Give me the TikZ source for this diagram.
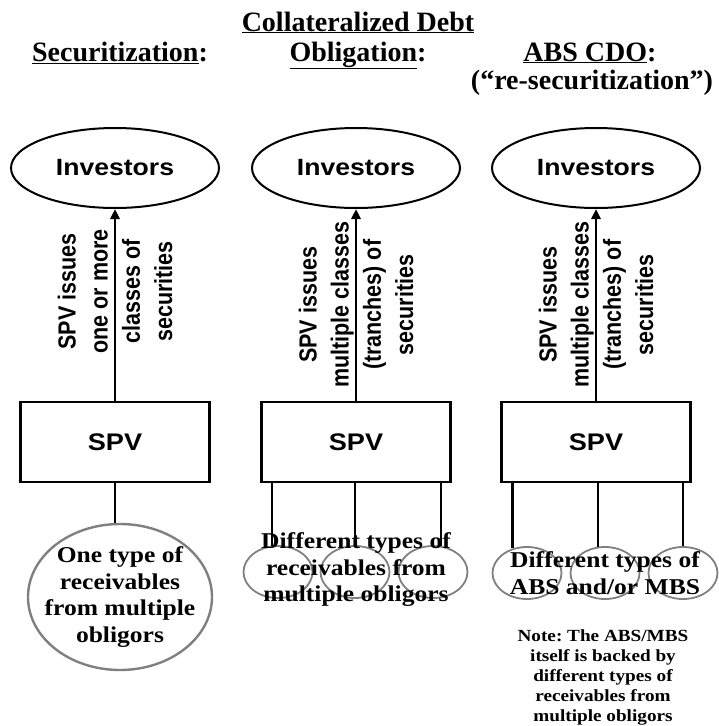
\documentclass[tikz,border=0pt]{standalone}
\usepackage{fontspec}
\setmainfont{Liberation Serif}
\setsansfont{Liberation Sans}
\newfontfamily\widerm[FakeStretch=1.13]{Liberation Serif}
\newfontfamily\widesf[FakeStretch=1.13]{Liberation Sans}
\usetikzlibrary{shapes.geometric,arrows.meta}
\frenchspacing
\tikzset{
  head/.style={anchor=base,inner sep=0pt,font=\fontsize{28}{30}\selectfont\bfseries},
  investors/.style={ellipse,draw,line width=2pt,minimum width=208pt,minimum height=80pt,inner sep=0pt,
    font=\widesf\fontsize{23.5}{26}\selectfont\bfseries},
  spvbox/.style={rectangle,draw,line width=2.6pt,minimum width=189pt,minimum height=80pt,
    font=\widesf\fontsize{24}{26}\selectfont\bfseries},
  issue/.style={xscale=1.15,rotate=90,align=center,inner sep=0pt,font=\sffamily\fontsize{21.5}{28}\selectfont\bfseries},
  flow/.style={line width=2.6pt,-{Triangle[width=9pt,length=10pt]}},
  tie/.style={line width=2.6pt},
  pool/.style={ellipse,draw=gray,line width=2.4pt,minimum width=184pt,minimum height=146pt,inner sep=0pt},
  asset/.style={ellipse,draw=gray,line width=1.8pt,minimum width=69pt,minimum height=52pt,inner sep=0pt},
  assettext/.style={align=center,inner sep=0pt,font=\widerm\fontsize{22.6}{26.5}\selectfont\bfseries},
  note/.style={align=center,inner sep=0pt,font=\widerm\fontsize{17}{20}\selectfont\bfseries}
}
\begin{document}
\begin{tikzpicture}[x=1pt,y=-1pt]
  \useasboundingbox (0,0) rectangle (718,726);

  \node[head] (hcdo) at (358,31) {\underline{Collateralized Debt}};
  \node[head] (hsec) at (120,61) {\underline{Securitization}:};
  \node[head] (hobl) at (358,61) {\underline{Obligation}:};
  \node[head] (habs) at (590,61) {\underline{ABS CDO}:};
  \node[head] (hres) at (592,89) {(“re-securitization”)};

  \node[investors] (inv1) at (115,168) {Investors};
  \node[investors] (inv2) at (356,168) {Investors};
  \node[investors] (inv3) at (596,168) {Investors};

  \node[spvbox] (spv1) at (115,442) {SPV};
  \node[spvbox] (spv2) at (356,442) {SPV};
  \node[spvbox] (spv3) at (596,442) {SPV};

  \draw[flow] (spv1) -- node[issue,pos=.57] {SPV issues\\one or more\\classes of\\securities} (inv1);
  \draw[flow] (spv2) -- node[issue,pos=.5] {SPV issues\\multiple classes\\(tranches) of\\securities} (inv2);
  \draw[flow] (spv3) -- node[issue,pos=.5] {SPV issues\\multiple classes\\(tranches) of\\securities} (inv3);

  \node[pool] (pool1) at (120,597) {};
  \draw[tie] (spv1.south) -- (spv1.south |- pool1.north);
  \node[assettext] (txt1) at (pool1) {One type of\\receivables\\from multiple\\obligors};

  \node[asset] (ra1) at (278,572) {};
  \node[asset] (ra2) at (355,572) {};
  \node[asset] (ra3) at (433,572) {};
  \draw[tie] (ra1.103) -- (ra1.103 |- spv2.south);
  \draw[tie] (ra2.north) -- (ra2.north |- spv2.south);
  \draw[tie] (ra3.73) -- (ra3.73 |- spv2.south);
  \node[assettext] (txt2) at (356,570) {Different types of\\receivables from\\multiple obligors};

  \node[asset] (rb1) at (527,573) {};
  \node[asset] (rb2) at (605,573) {};
  \node[asset] (rb3) at (683,573) {};
  \draw[tie] (rb1.120) -- (rb1.120 |- spv3.south);
  \draw[tie] (rb2.105) -- (rb2.105 |- spv3.south);
  \draw[tie] (rb3.north) -- (rb3.north |- spv3.south);
  \node[assettext] (txt3) at (605,573) {Different types of\\ABS and/or MBS};

  \node[note] (note3) at (603,677) {Note: The ABS/MBS\\itself is backed by\\different types of\\receivables from\\multiple obligors};
\end{tikzpicture}
\end{document}
